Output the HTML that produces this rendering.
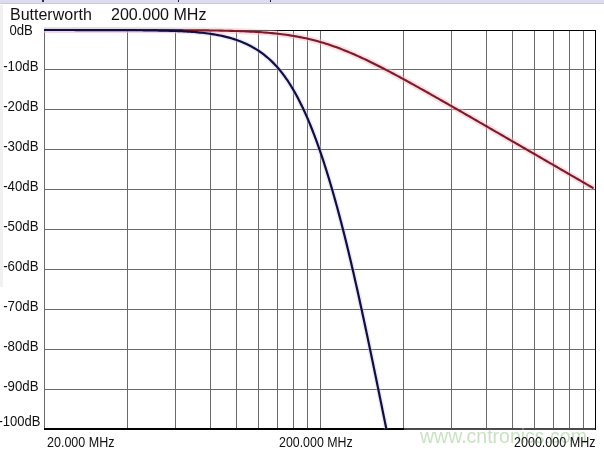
<!DOCTYPE html>
<html><head><meta charset="utf-8"><style>
html,body{margin:0;padding:0;background:#fff;}
body{width:604px;height:452px;overflow:hidden;position:relative;}
svg{position:absolute;left:0;top:0;display:block;}
text{font-family:"Liberation Sans",sans-serif;}
.yl{font-size:13.75px;fill:#111;}
.xl{font-size:14px;fill:#111;}
.tl{font-size:16px;fill:#111;}
.wm{font-size:19.5px;fill:#9cc890;fill-opacity:0.55;}
</style></head><body>
<svg width="604" height="452" viewBox="0 0 604 452" shape-rendering="crispEdges">
<rect x="0" y="0" width="604" height="452" fill="#ffffff"/>
<rect x="0" y="0" width="604" height="3" fill="#dddcef"/>
<rect x="0" y="3" width="604" height="1" fill="#c9c8dc"/>
<rect x="42" y="0" width="2" height="2" fill="#2a2a55"/>
<rect x="178" y="0" width="1" height="2" fill="#1e1e46"/>
<rect x="270" y="0" width="1" height="2" fill="#1e1e46"/>
<rect x="0" y="5" width="3" height="282" fill="#f1f1f2"/>
<rect x="127" y="30" width="1" height="399" fill="#6a6a6a"/>
<rect x="175" y="30" width="1" height="399" fill="#6a6a6a"/>
<rect x="210" y="30" width="1" height="399" fill="#6a6a6a"/>
<rect x="236" y="30" width="1" height="399" fill="#6a6a6a"/>
<rect x="258" y="30" width="1" height="399" fill="#6a6a6a"/>
<rect x="277" y="30" width="1" height="399" fill="#6a6a6a"/>
<rect x="293" y="30" width="1" height="399" fill="#6a6a6a"/>
<rect x="307" y="30" width="1" height="399" fill="#6a6a6a"/>
<rect x="320" y="30" width="1" height="399" fill="#6a6a6a"/>
<rect x="403" y="30" width="1" height="399" fill="#6a6a6a"/>
<rect x="451" y="30" width="1" height="399" fill="#6a6a6a"/>
<rect x="486" y="30" width="1" height="399" fill="#6a6a6a"/>
<rect x="512" y="30" width="1" height="399" fill="#6a6a6a"/>
<rect x="534" y="30" width="1" height="399" fill="#6a6a6a"/>
<rect x="553" y="30" width="1" height="399" fill="#6a6a6a"/>
<rect x="569" y="30" width="1" height="399" fill="#6a6a6a"/>
<rect x="583" y="30" width="1" height="399" fill="#6a6a6a"/>
<rect x="44" y="69" width="552" height="1" fill="#6a6a6a"/>
<rect x="44" y="109" width="552" height="1" fill="#6a6a6a"/>
<rect x="44" y="149" width="552" height="1" fill="#6a6a6a"/>
<rect x="44" y="189" width="552" height="1" fill="#6a6a6a"/>
<rect x="44" y="229" width="552" height="1" fill="#6a6a6a"/>
<rect x="44" y="269" width="552" height="1" fill="#6a6a6a"/>
<rect x="44" y="309" width="552" height="1" fill="#6a6a6a"/>
<rect x="44" y="349" width="552" height="1" fill="#6a6a6a"/>
<rect x="44" y="389" width="552" height="1" fill="#6a6a6a"/>
<rect x="44" y="30" width="1" height="400" fill="#6a6a6a"/>
<rect x="44" y="428" width="552" height="2" fill="#4a4a4a"/>
<rect x="44" y="428" width="360" height="2" fill="#000"/>
<rect x="44" y="30" width="552" height="1" fill="#000"/>
<rect x="595" y="30" width="1" height="400" fill="#000"/>
<g shape-rendering="geometricPrecision">
<polyline points="44.00,30.00 46.00,30.00 48.00,30.00 50.00,30.00 52.00,30.00 54.00,30.00 56.00,30.00 58.00,30.00 60.00,30.00 62.00,30.00 64.00,30.00 66.00,30.00 68.00,30.00 70.00,30.00 72.00,30.00 74.00,30.00 76.00,30.00 78.00,30.01 80.00,30.01 82.00,30.01 84.00,30.01 86.00,30.01 88.00,30.01 90.00,30.01 92.00,30.01 94.00,30.01 96.00,30.01 98.00,30.01 100.00,30.01 102.00,30.01 104.00,30.01 106.00,30.01 108.00,30.01 110.00,30.02 112.00,30.02 114.00,30.02 116.00,30.02 118.00,30.02 120.00,30.02 122.00,30.02 124.00,30.02 126.00,30.03 128.00,30.03 130.00,30.03 132.00,30.03 134.00,30.03 136.00,30.04 138.00,30.04 140.00,30.04 142.00,30.04 144.00,30.05 146.00,30.05 148.00,30.05 150.00,30.06 152.00,30.06 154.00,30.07 156.00,30.07 158.00,30.08 160.00,30.08 162.00,30.09 164.00,30.09 166.00,30.10 168.00,30.11 170.00,30.11 172.00,30.12 174.00,30.13 176.00,30.14 178.00,30.15 180.00,30.16 182.00,30.17 184.00,30.18 186.00,30.19 188.00,30.21 190.00,30.22 192.00,30.24 194.00,30.25 196.00,30.27 198.00,30.29 200.00,30.31 202.00,30.33 204.00,30.35 206.00,30.38 208.00,30.40 210.00,30.43 212.00,30.46 214.00,30.49 216.00,30.52 218.00,30.56 220.00,30.60 222.00,30.64 224.00,30.68 226.00,30.73 228.00,30.78 230.00,30.83 232.00,30.88 234.00,30.94 236.00,31.01 238.00,31.07 240.00,31.14 242.00,31.22 244.00,31.30 246.00,31.39 248.00,31.48 250.00,31.58 252.00,31.68 254.00,31.79 256.00,31.91 258.00,32.03 260.00,32.17 262.00,32.31 264.00,32.45 266.00,32.61 268.00,32.78 270.00,32.95 272.00,33.14 274.00,33.34 276.00,33.55 278.00,33.77 280.00,34.00 282.00,34.24 284.00,34.50 286.00,34.77 288.00,35.06 290.00,35.36 292.00,35.67 294.00,36.01 296.00,36.35 298.00,36.72 300.00,37.10 302.00,37.49 304.00,37.91 306.00,38.34 308.00,38.79 310.00,39.26 312.00,39.75 314.00,40.26 316.00,40.79 318.00,41.33 320.00,41.90 322.00,42.48 324.00,43.09 326.00,43.71 328.00,44.35 330.00,45.01 332.00,45.69 334.00,46.39 336.00,47.11 338.00,47.84 340.00,48.60 342.00,49.37 344.00,50.16 346.00,50.96 348.00,51.78 350.00,52.62 352.00,53.47 354.00,54.33 356.00,55.22 358.00,56.11 360.00,57.02 362.00,57.94 364.00,58.87 366.00,59.82 368.00,60.77 370.00,61.74 372.00,62.72 374.00,63.71 376.00,64.71 378.00,65.71 380.00,66.73 382.00,67.75 384.00,68.78 386.00,69.82 388.00,70.87 390.00,71.92 392.00,72.98 394.00,74.04 396.00,75.11 398.00,76.19 400.00,77.27 402.00,78.35 404.00,79.44 406.00,80.54 408.00,81.64 410.00,82.74 412.00,83.84 414.00,84.95 416.00,86.07 418.00,87.18 420.00,88.30 422.00,89.42 424.00,90.54 426.00,91.67 428.00,92.79 430.00,93.92 432.00,95.05 434.00,96.19 436.00,97.32 438.00,98.46 440.00,99.59 442.00,100.73 444.00,101.87 446.00,103.02 448.00,104.16 450.00,105.30 452.00,106.45 454.00,107.59 456.00,108.74 458.00,109.89 460.00,111.03 462.00,112.18 464.00,113.33 466.00,114.48 468.00,115.63 470.00,116.78 472.00,117.94 474.00,119.09 476.00,120.24 478.00,121.39 480.00,122.55 482.00,123.70 484.00,124.86 486.00,126.01 488.00,127.17 490.00,128.32 492.00,129.48 494.00,130.63 496.00,131.79 498.00,132.94 500.00,134.10 502.00,135.26 504.00,136.41 506.00,137.57 508.00,138.73 510.00,139.89 512.00,141.04 514.00,142.20 516.00,143.36 518.00,144.52 520.00,145.67 522.00,146.83 524.00,147.99 526.00,149.15 528.00,150.31 530.00,151.47 532.00,152.62 534.00,153.78 536.00,154.94 538.00,156.10 540.00,157.26 542.00,158.42 544.00,159.58 546.00,160.73 548.00,161.89 550.00,163.05 552.00,164.21 554.00,165.37 556.00,166.53 558.00,167.69 560.00,168.85 562.00,170.01 564.00,171.16 566.00,172.32 568.00,173.48 570.00,174.64 572.00,175.80 574.00,176.96 576.00,178.12 578.00,179.28 580.00,180.44 582.00,181.60 584.00,182.76 586.00,183.92 588.00,185.07 590.00,186.23 592.00,187.39 593.50,188.26" fill="none" stroke="#f2b8c4" stroke-opacity="0.45" stroke-width="6" stroke-linejoin="round"/>
<polyline points="44.00,30.01 46.00,30.01 48.00,30.01 50.00,30.01 52.00,30.01 54.00,30.01 56.00,30.01 58.00,30.01 60.00,30.01 62.00,30.02 64.00,30.02 66.00,30.02 68.00,30.02 70.00,30.02 72.00,30.02 74.00,30.02 76.00,30.03 78.00,30.03 80.00,30.03 82.00,30.03 84.00,30.03 86.00,30.04 88.00,30.04 90.00,30.04 92.00,30.04 94.00,30.05 96.00,30.05 98.00,30.05 100.00,30.06 102.00,30.06 104.00,30.07 106.00,30.07 108.00,30.08 110.00,30.08 112.00,30.09 114.00,30.10 116.00,30.10 118.00,30.11 120.00,30.12 122.00,30.13 124.00,30.14 126.00,30.15 128.00,30.16 130.00,30.18 132.00,30.19 134.00,30.20 136.00,30.22 138.00,30.24 140.00,30.25 142.00,30.27 144.00,30.30 146.00,30.32 148.00,30.34 150.00,30.37 152.00,30.40 154.00,30.43 156.00,30.47 158.00,30.50 160.00,30.54 162.00,30.59 164.00,30.63 166.00,30.68 168.00,30.74 170.00,30.80 172.00,30.86 174.00,30.93 176.00,31.01 178.00,31.09 180.00,31.17 182.00,31.27 184.00,31.37 186.00,31.48 188.00,31.60 190.00,31.73 192.00,31.87 194.00,32.02 196.00,32.19 198.00,32.36 200.00,32.56 202.00,32.76 204.00,32.98 206.00,33.22 208.00,33.48 210.00,33.76 212.00,34.05 214.00,34.37 216.00,34.72 218.00,35.09 220.00,35.48 222.00,35.91 224.00,36.36 226.00,36.84 228.00,37.36 230.00,37.91 232.00,38.50 234.00,39.13 236.00,39.80 238.00,40.51 240.00,41.26 242.00,42.06 244.00,42.91 246.00,43.81 248.00,44.76 250.00,45.77 252.00,46.84 254.00,47.97 256.00,49.17 258.00,50.43 260.00,51.78 262.00,53.19 264.00,54.70 266.00,56.29 268.00,57.97 270.00,59.75 272.00,61.64 272.50,62.13 273.00,62.63 273.50,63.13 274.00,63.64 274.50,64.16 275.00,64.68 275.50,65.22 276.00,65.76 276.50,66.30 277.00,66.86 277.50,67.42 278.00,68.00 278.50,68.58 279.00,69.16 279.50,69.76 280.00,70.37 280.50,70.98 281.00,71.60 281.50,72.23 282.00,72.87 282.50,73.52 283.00,74.17 283.50,74.84 284.00,75.51 284.50,76.19 285.00,76.88 285.50,77.59 286.00,78.30 286.50,79.02 287.00,79.74 287.50,80.48 288.00,81.23 288.50,81.99 289.00,82.75 289.50,83.53 290.00,84.32 290.50,85.11 291.00,85.92 291.50,86.73 292.00,87.56 292.50,88.39 293.00,89.24 293.50,90.09 294.00,90.96 294.50,91.84 295.00,92.72 295.50,93.62 296.00,94.52 296.50,95.44 297.00,96.37 297.50,97.30 298.00,98.25 298.50,99.21 299.00,100.18 299.50,101.16 300.00,102.15 300.50,103.15 301.00,104.16 301.50,105.18 302.00,106.22 302.50,107.26 303.00,108.32 303.50,109.38 304.00,110.46 304.50,111.55 305.00,112.65 305.50,113.76 306.00,114.88 306.50,116.01 307.00,117.16 307.50,118.31 308.00,119.48 308.50,120.66 309.00,121.85 309.50,123.05 310.00,124.26 310.50,125.49 311.00,126.72 311.50,127.97 312.00,129.23 312.50,130.50 313.00,131.78 313.50,133.08 314.00,134.38 314.50,135.70 315.00,137.03 315.50,138.37 316.00,139.72 316.50,141.08 317.00,142.46 317.50,143.85 318.00,145.25 318.50,146.66 319.00,148.08 319.50,149.51 320.00,150.96 320.50,152.41 321.00,153.88 321.50,155.36 322.00,156.85 322.50,158.36 323.00,159.87 323.50,161.40 324.00,162.93 324.50,164.48 325.00,166.04 325.50,167.61 326.00,169.19 326.50,170.79 327.00,172.39 327.50,174.01 328.00,175.64 328.50,177.27 329.00,178.92 329.50,180.58 330.00,182.26 330.50,183.94 331.00,185.63 331.50,187.34 332.00,189.05 332.50,190.78 333.00,192.52 333.50,194.27 334.00,196.03 334.50,197.80 335.00,199.58 335.50,201.37 336.00,203.18 336.50,204.99 337.00,206.82 337.50,208.65 338.00,210.50 338.50,212.36 339.00,214.23 339.50,216.11 340.00,218.00 340.50,219.91 341.00,221.82 341.50,223.74 342.00,225.68 342.50,227.63 343.00,229.58 343.50,231.55 344.00,233.53 344.50,235.52 345.00,237.52 345.50,239.53 346.00,241.56 346.50,243.59 347.00,245.63 347.50,247.69 348.00,249.75 348.50,251.82 349.00,253.91 349.50,256.00 350.00,258.11 350.50,260.22 351.00,262.35 351.50,264.48 352.00,266.63 352.50,268.78 353.00,270.94 353.50,273.12 354.00,275.30 354.50,277.49 355.00,279.69 355.50,281.90 356.00,284.12 356.50,286.34 357.00,288.57 357.50,290.82 358.00,293.07 358.50,295.33 359.00,297.59 359.50,299.86 360.00,302.14 360.50,304.43 361.00,306.73 361.50,309.03 362.00,311.34 362.50,313.65 363.00,315.97 363.50,318.30 364.00,320.64 364.50,322.98 365.00,325.32 365.50,327.67 366.00,330.03 366.50,332.39 367.00,334.76 367.50,337.13 368.00,339.51 368.50,341.89 369.00,344.27 369.50,346.66 370.00,349.06 370.50,351.46 371.00,353.86 371.50,356.27 372.00,358.68 372.50,361.09 373.00,363.51 373.50,365.93 374.00,368.36 374.50,370.78 375.00,373.22 375.50,375.65 376.00,378.09 376.50,380.53 377.00,382.97 377.50,385.41 378.00,387.86 378.50,390.31 379.00,392.76 379.50,395.22 380.00,397.68 380.50,400.13 381.00,402.60 381.50,405.06 382.00,407.52 382.50,409.99 383.00,412.46 383.50,414.93 384.00,417.40 384.50,419.88 385.00,422.35 385.50,424.83 386.00,427.31 386.34,429.00" fill="none" stroke="#c4c4f0" stroke-opacity="0.35" stroke-width="5" stroke-linejoin="round"/>
<polyline points="44.00,30.00 46.00,30.00 48.00,30.00 50.00,30.00 52.00,30.00 54.00,30.00 56.00,30.00 58.00,30.00 60.00,30.00 62.00,30.00 64.00,30.00 66.00,30.00 68.00,30.00 70.00,30.00 72.00,30.00 74.00,30.00 76.00,30.00 78.00,30.01 80.00,30.01 82.00,30.01 84.00,30.01 86.00,30.01 88.00,30.01 90.00,30.01 92.00,30.01 94.00,30.01 96.00,30.01 98.00,30.01 100.00,30.01 102.00,30.01 104.00,30.01 106.00,30.01 108.00,30.01 110.00,30.02 112.00,30.02 114.00,30.02 116.00,30.02 118.00,30.02 120.00,30.02 122.00,30.02 124.00,30.02 126.00,30.03 128.00,30.03 130.00,30.03 132.00,30.03 134.00,30.03 136.00,30.04 138.00,30.04 140.00,30.04 142.00,30.04 144.00,30.05 146.00,30.05 148.00,30.05 150.00,30.06 152.00,30.06 154.00,30.07 156.00,30.07 158.00,30.08 160.00,30.08 162.00,30.09 164.00,30.09 166.00,30.10 168.00,30.11 170.00,30.11 172.00,30.12 174.00,30.13 176.00,30.14 178.00,30.15 180.00,30.16 182.00,30.17 184.00,30.18 186.00,30.19 188.00,30.21 190.00,30.22 192.00,30.24 194.00,30.25 196.00,30.27 198.00,30.29 200.00,30.31 202.00,30.33 204.00,30.35 206.00,30.38 208.00,30.40 210.00,30.43 212.00,30.46 214.00,30.49 216.00,30.52 218.00,30.56 220.00,30.60 222.00,30.64 224.00,30.68 226.00,30.73 228.00,30.78 230.00,30.83 232.00,30.88 234.00,30.94 236.00,31.01 238.00,31.07 240.00,31.14 242.00,31.22 244.00,31.30 246.00,31.39 248.00,31.48 250.00,31.58 252.00,31.68 254.00,31.79 256.00,31.91 258.00,32.03 260.00,32.17 262.00,32.31 264.00,32.45 266.00,32.61 268.00,32.78 270.00,32.95 272.00,33.14 274.00,33.34 276.00,33.55 278.00,33.77 280.00,34.00 282.00,34.24 284.00,34.50 286.00,34.77 288.00,35.06 290.00,35.36 292.00,35.67 294.00,36.01 296.00,36.35 298.00,36.72 300.00,37.10 302.00,37.49 304.00,37.91 306.00,38.34 308.00,38.79 310.00,39.26 312.00,39.75 314.00,40.26 316.00,40.79 318.00,41.33 320.00,41.90 322.00,42.48 324.00,43.09 326.00,43.71 328.00,44.35 330.00,45.01 332.00,45.69 334.00,46.39 336.00,47.11 338.00,47.84 340.00,48.60 342.00,49.37 344.00,50.16 346.00,50.96 348.00,51.78 350.00,52.62 352.00,53.47 354.00,54.33 356.00,55.22 358.00,56.11 360.00,57.02 362.00,57.94 364.00,58.87 366.00,59.82 368.00,60.77 370.00,61.74 372.00,62.72 374.00,63.71 376.00,64.71 378.00,65.71 380.00,66.73 382.00,67.75 384.00,68.78 386.00,69.82 388.00,70.87 390.00,71.92 392.00,72.98 394.00,74.04 396.00,75.11 398.00,76.19 400.00,77.27 402.00,78.35 404.00,79.44 406.00,80.54 408.00,81.64 410.00,82.74 412.00,83.84 414.00,84.95 416.00,86.07 418.00,87.18 420.00,88.30 422.00,89.42 424.00,90.54 426.00,91.67 428.00,92.79 430.00,93.92 432.00,95.05 434.00,96.19 436.00,97.32 438.00,98.46 440.00,99.59 442.00,100.73 444.00,101.87 446.00,103.02 448.00,104.16 450.00,105.30 452.00,106.45 454.00,107.59 456.00,108.74 458.00,109.89 460.00,111.03 462.00,112.18 464.00,113.33 466.00,114.48 468.00,115.63 470.00,116.78 472.00,117.94 474.00,119.09 476.00,120.24 478.00,121.39 480.00,122.55 482.00,123.70 484.00,124.86 486.00,126.01 488.00,127.17 490.00,128.32 492.00,129.48 494.00,130.63 496.00,131.79 498.00,132.94 500.00,134.10 502.00,135.26 504.00,136.41 506.00,137.57 508.00,138.73 510.00,139.89 512.00,141.04 514.00,142.20 516.00,143.36 518.00,144.52 520.00,145.67 522.00,146.83 524.00,147.99 526.00,149.15 528.00,150.31 530.00,151.47 532.00,152.62 534.00,153.78 536.00,154.94 538.00,156.10 540.00,157.26 542.00,158.42 544.00,159.58 546.00,160.73 548.00,161.89 550.00,163.05 552.00,164.21 554.00,165.37 556.00,166.53 558.00,167.69 560.00,168.85 562.00,170.01 564.00,171.16 566.00,172.32 568.00,173.48 570.00,174.64 572.00,175.80 574.00,176.96 576.00,178.12 578.00,179.28 580.00,180.44 582.00,181.60 584.00,182.76 586.00,183.92 588.00,185.07 590.00,186.23 592.00,187.39 593.50,188.26" fill="none" stroke="#7c1a28" stroke-width="2.1" stroke-linejoin="round"/>
<polyline points="44.00,30.01 46.00,30.01 48.00,30.01 50.00,30.01 52.00,30.01 54.00,30.01 56.00,30.01 58.00,30.01 60.00,30.01 62.00,30.02 64.00,30.02 66.00,30.02 68.00,30.02 70.00,30.02 72.00,30.02 74.00,30.02 76.00,30.03 78.00,30.03 80.00,30.03 82.00,30.03 84.00,30.03 86.00,30.04 88.00,30.04 90.00,30.04 92.00,30.04 94.00,30.05 96.00,30.05 98.00,30.05 100.00,30.06 102.00,30.06 104.00,30.07 106.00,30.07 108.00,30.08 110.00,30.08 112.00,30.09 114.00,30.10 116.00,30.10 118.00,30.11 120.00,30.12 122.00,30.13 124.00,30.14 126.00,30.15 128.00,30.16 130.00,30.18 132.00,30.19 134.00,30.20 136.00,30.22 138.00,30.24 140.00,30.25 142.00,30.27 144.00,30.30 146.00,30.32 148.00,30.34 150.00,30.37 152.00,30.40 154.00,30.43 156.00,30.47 158.00,30.50 160.00,30.54 162.00,30.59 164.00,30.63 166.00,30.68 168.00,30.74 170.00,30.80 172.00,30.86 174.00,30.93 176.00,31.01 178.00,31.09 180.00,31.17 182.00,31.27 184.00,31.37 186.00,31.48 188.00,31.60 190.00,31.73 192.00,31.87 194.00,32.02 196.00,32.19 198.00,32.36 200.00,32.56 202.00,32.76 204.00,32.98 206.00,33.22 208.00,33.48 210.00,33.76 212.00,34.05 214.00,34.37 216.00,34.72 218.00,35.09 220.00,35.48 222.00,35.91 224.00,36.36 226.00,36.84 228.00,37.36 230.00,37.91 232.00,38.50 234.00,39.13 236.00,39.80 238.00,40.51 240.00,41.26 242.00,42.06 244.00,42.91 246.00,43.81 248.00,44.76 250.00,45.77 252.00,46.84 254.00,47.97 256.00,49.17 258.00,50.43 260.00,51.78 262.00,53.19 264.00,54.70 266.00,56.29 268.00,57.97 270.00,59.75 272.00,61.64 272.50,62.13 273.00,62.63 273.50,63.13 274.00,63.64 274.50,64.16 275.00,64.68 275.50,65.22 276.00,65.76 276.50,66.30 277.00,66.86 277.50,67.42 278.00,68.00 278.50,68.58 279.00,69.16 279.50,69.76 280.00,70.37 280.50,70.98 281.00,71.60 281.50,72.23 282.00,72.87 282.50,73.52 283.00,74.17 283.50,74.84 284.00,75.51 284.50,76.19 285.00,76.88 285.50,77.59 286.00,78.30 286.50,79.02 287.00,79.74 287.50,80.48 288.00,81.23 288.50,81.99 289.00,82.75 289.50,83.53 290.00,84.32 290.50,85.11 291.00,85.92 291.50,86.73 292.00,87.56 292.50,88.39 293.00,89.24 293.50,90.09 294.00,90.96 294.50,91.84 295.00,92.72 295.50,93.62 296.00,94.52 296.50,95.44 297.00,96.37 297.50,97.30 298.00,98.25 298.50,99.21 299.00,100.18 299.50,101.16 300.00,102.15 300.50,103.15 301.00,104.16 301.50,105.18 302.00,106.22 302.50,107.26 303.00,108.32 303.50,109.38 304.00,110.46 304.50,111.55 305.00,112.65 305.50,113.76 306.00,114.88 306.50,116.01 307.00,117.16 307.50,118.31 308.00,119.48 308.50,120.66 309.00,121.85 309.50,123.05 310.00,124.26 310.50,125.49 311.00,126.72 311.50,127.97 312.00,129.23 312.50,130.50 313.00,131.78 313.50,133.08 314.00,134.38 314.50,135.70 315.00,137.03 315.50,138.37 316.00,139.72 316.50,141.08 317.00,142.46 317.50,143.85 318.00,145.25 318.50,146.66 319.00,148.08 319.50,149.51 320.00,150.96 320.50,152.41 321.00,153.88 321.50,155.36 322.00,156.85 322.50,158.36 323.00,159.87 323.50,161.40 324.00,162.93 324.50,164.48 325.00,166.04 325.50,167.61 326.00,169.19 326.50,170.79 327.00,172.39 327.50,174.01 328.00,175.64 328.50,177.27 329.00,178.92 329.50,180.58 330.00,182.26 330.50,183.94 331.00,185.63 331.50,187.34 332.00,189.05 332.50,190.78 333.00,192.52 333.50,194.27 334.00,196.03 334.50,197.80 335.00,199.58 335.50,201.37 336.00,203.18 336.50,204.99 337.00,206.82 337.50,208.65 338.00,210.50 338.50,212.36 339.00,214.23 339.50,216.11 340.00,218.00 340.50,219.91 341.00,221.82 341.50,223.74 342.00,225.68 342.50,227.63 343.00,229.58 343.50,231.55 344.00,233.53 344.50,235.52 345.00,237.52 345.50,239.53 346.00,241.56 346.50,243.59 347.00,245.63 347.50,247.69 348.00,249.75 348.50,251.82 349.00,253.91 349.50,256.00 350.00,258.11 350.50,260.22 351.00,262.35 351.50,264.48 352.00,266.63 352.50,268.78 353.00,270.94 353.50,273.12 354.00,275.30 354.50,277.49 355.00,279.69 355.50,281.90 356.00,284.12 356.50,286.34 357.00,288.57 357.50,290.82 358.00,293.07 358.50,295.33 359.00,297.59 359.50,299.86 360.00,302.14 360.50,304.43 361.00,306.73 361.50,309.03 362.00,311.34 362.50,313.65 363.00,315.97 363.50,318.30 364.00,320.64 364.50,322.98 365.00,325.32 365.50,327.67 366.00,330.03 366.50,332.39 367.00,334.76 367.50,337.13 368.00,339.51 368.50,341.89 369.00,344.27 369.50,346.66 370.00,349.06 370.50,351.46 371.00,353.86 371.50,356.27 372.00,358.68 372.50,361.09 373.00,363.51 373.50,365.93 374.00,368.36 374.50,370.78 375.00,373.22 375.50,375.65 376.00,378.09 376.50,380.53 377.00,382.97 377.50,385.41 378.00,387.86 378.50,390.31 379.00,392.76 379.50,395.22 380.00,397.68 380.50,400.13 381.00,402.60 381.50,405.06 382.00,407.52 382.50,409.99 383.00,412.46 383.50,414.93 384.00,417.40 384.50,419.88 385.00,422.35 385.50,424.83 386.00,427.31 386.34,429.00" fill="none" stroke="#120e40" stroke-width="2.2" stroke-linejoin="round"/>
</g>
<g shape-rendering="geometricPrecision">
<text x="10" y="19.7" class="tl">Butterworth</text>
<text x="111" y="19.7" class="tl" textLength="95.5" lengthAdjust="spacingAndGlyphs">200.000 MHz</text>
<text x="9.4" y="35" class="yl" textLength="23.4" lengthAdjust="spacingAndGlyphs">0dB</text>
<text x="3.2" y="71" class="yl" textLength="35.3" lengthAdjust="spacingAndGlyphs">-10dB</text>
<text x="3.2" y="111" class="yl" textLength="35.3" lengthAdjust="spacingAndGlyphs">-20dB</text>
<text x="3.2" y="151" class="yl" textLength="35.3" lengthAdjust="spacingAndGlyphs">-30dB</text>
<text x="3.2" y="191" class="yl" textLength="35.3" lengthAdjust="spacingAndGlyphs">-40dB</text>
<text x="3.2" y="231" class="yl" textLength="35.3" lengthAdjust="spacingAndGlyphs">-50dB</text>
<text x="3.2" y="271" class="yl" textLength="35.3" lengthAdjust="spacingAndGlyphs">-60dB</text>
<text x="3.2" y="311" class="yl" textLength="35.3" lengthAdjust="spacingAndGlyphs">-70dB</text>
<text x="3.2" y="351" class="yl" textLength="35.3" lengthAdjust="spacingAndGlyphs">-80dB</text>
<text x="3.2" y="391" class="yl" textLength="35.3" lengthAdjust="spacingAndGlyphs">-90dB</text>
<text x="-1.5" y="425.8" class="yl" textLength="42" lengthAdjust="spacingAndGlyphs">-100dB</text>
<text x="420" y="442.5" class="wm">www.cntronics.com</text>
<text x="47" y="447" class="xl" textLength="67.5" lengthAdjust="spacingAndGlyphs">20.000 MHz</text>
<text x="279" y="447" class="xl" textLength="73.7" lengthAdjust="spacingAndGlyphs">200.000 MHz</text>
<text x="514" y="447" class="xl" textLength="81.5" lengthAdjust="spacingAndGlyphs">2000.000 MHz</text>
</g>
</svg>
</body></html>
